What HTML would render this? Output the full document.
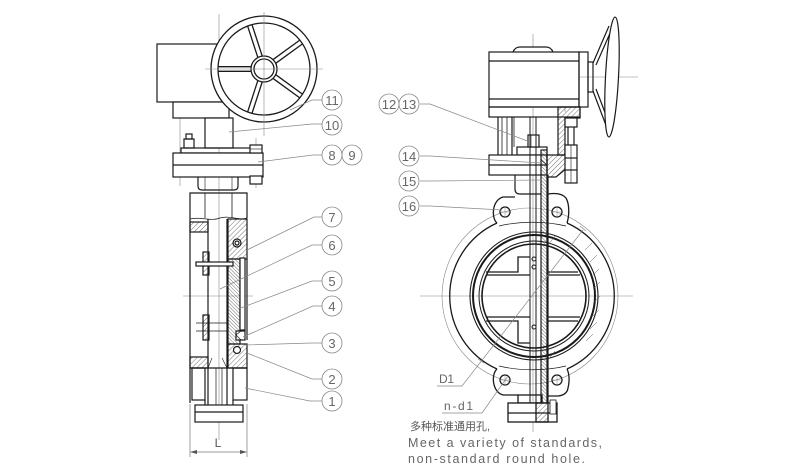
<!DOCTYPE html>
<html><head><meta charset="utf-8">
<style>
html,body{margin:0;padding:0;background:#fff;}
svg{display:block;}
text{font-family:"Liberation Sans","Noto Sans CJK SC",sans-serif;}
</style></head>
<body>
<svg width="790" height="472" viewBox="0 0 790 472" xmlns="http://www.w3.org/2000/svg">
<defs>
<pattern id="h" patternUnits="userSpaceOnUse" width="3.5" height="3.5" patternTransform="rotate(45)">
<line x1="0" y1="0" x2="0" y2="3.5" stroke="#333" stroke-width="0.7"/>
</pattern>
<pattern id="h2" patternUnits="userSpaceOnUse" width="2.5" height="2.5" patternTransform="rotate(-45)">
<line x1="0" y1="0" x2="0" y2="2.5" stroke="#333" stroke-width="0.7"/>
</pattern>
</defs>

<!-- ================= LEFT VIEW ================= -->
<!-- centerlines -->
<g stroke="#888" stroke-width="0.6" fill="none">
<line x1="219" y1="14" x2="219" y2="440"/>
<line x1="183" y1="296" x2="253" y2="296"/>
<line x1="180" y1="104" x2="180" y2="186"/>
<line x1="256" y1="138" x2="256" y2="188"/>
</g>

<g fill="none" stroke="#1a1a1a" stroke-width="1.2">
<!-- gearbox -->
<rect x="157" y="44" width="70" height="58" fill="#fff"/>
<rect x="173" y="102" width="56" height="16" fill="#fff"/>
<!-- stem column -->
<rect x="205" y="118" width="28" height="30" fill="#fff"/>
<!-- small plate + flange -->
<rect x="181" y="148" width="70" height="5"/>
<rect x="173" y="153" width="90" height="24" fill="#fff"/>
<line x1="173" y1="165" x2="263" y2="165"/>
<!-- left bolt -->
<rect x="184" y="139" width="10" height="9"/>
<rect x="186" y="134" width="6" height="5"/>
<!-- right bolt -->
<rect x="250" y="145" width="12" height="8" fill="#fff"/>
<rect x="250" y="176" width="12" height="8" fill="#fff"/>
<line x1="250" y1="149" x2="262" y2="149" stroke-width="0.6"/>
<!-- neck -->
<path d="M198,177 V186 Q198,190 202,190 H234 Q238,190 238,186 V177"/>
<line x1="205" y1="177" x2="205" y2="190" stroke-width="0.6"/>
<line x1="232" y1="177" x2="232" y2="190" stroke-width="0.6"/>
</g>

<!-- handwheel -->
<g fill="none" stroke="#1a1a1a" stroke-width="1.3">
<circle cx="264" cy="69" r="53" fill="#fff"/>
<circle cx="264" cy="69" r="46"/>
<g transform="translate(264,69)">
<path d="M12,-2.3 H45.9 M12,2.3 H45.9" transform="rotate(180)"/>
<path d="M12,-2.3 H45.9 M12,2.3 H45.9" transform="rotate(252)"/>
<path d="M12,-2.3 H45.9 M12,2.3 H45.9" transform="rotate(324)"/>
<path d="M12,-2.3 H45.9 M12,2.3 H45.9" transform="rotate(36)"/>
<path d="M12,-2.3 H45.9 M12,2.3 H45.9" transform="rotate(108)"/>
</g>
<circle cx="264" cy="69" r="13" fill="#fff"/>
<circle cx="264" cy="69" r="10"/>
</g>
<g stroke="#888" stroke-width="0.6">
<line x1="205" y1="69" x2="323" y2="69"/>
<line x1="264" y1="12" x2="264" y2="136"/>
</g>

<!-- body -->
<g stroke="#1a1a1a" stroke-width="1.2" fill="none">
<path d="M190,403 V193 H247 V218"/>
<line x1="205" y1="193" x2="205" y2="218" stroke-width="0.8"/>
<line x1="232" y1="193" x2="232" y2="218" stroke-width="0.8"/>
<path d="M190,219 C200,216 210,222 220,218 C230,215 240,221 247,218" stroke-width="0.7"/>
<!-- hatches -->
<rect x="190" y="222" width="18" height="10" fill="url(#h)"/>
<rect x="190" y="357" width="18" height="11" fill="url(#h)"/>
<rect x="228" y="219" width="19" height="40" fill="url(#h)"/>
<circle cx="237" cy="243" r="4" fill="#fff"/>
<circle cx="237" cy="243" r="2"/>
<rect x="228" y="259" width="12" height="85" fill="url(#h2)"/>
<rect x="240" y="258" width="5" height="72" fill="#fff"/>
<path d="M247,259 V340" />
<rect x="228" y="344" width="19" height="24" fill="url(#h)"/>
<circle cx="237" cy="350" r="3.5" fill="#fff"/>
<rect x="236" y="331" width="9" height="9" fill="#fff"/>
<path d="M236,335 L241,331 M236,335 L241,340" stroke-width="0.7"/>
<!-- stem -->
<line x1="208" y1="219" x2="208" y2="405"/>
<line x1="227" y1="219" x2="227" y2="405"/>
<line x1="190" y1="368" x2="247" y2="368"/>
<path d="M208,368 L212,358 M227,368 L222,358" stroke-width="0.6"/>
<!-- pins -->
<rect x="203" y="252" width="6" height="23" fill="url(#h)"/>
<rect x="196" y="262" width="37" height="4" fill="#fff"/>
<rect x="203" y="315" width="6" height="25" fill="url(#h)"/>
<line x1="196" y1="323" x2="228" y2="323" stroke-width="0.7"/>
<line x1="196" y1="331" x2="228" y2="331" stroke-width="0.7"/>
<!-- bottom -->
<rect x="192" y="368" width="13" height="32"/>
<rect x="233" y="368" width="14" height="32"/>
<line x1="216" y1="368" x2="216" y2="422" stroke-width="0.7"/>
<line x1="222" y1="368" x2="222" y2="422" stroke-width="0.7"/>
<rect x="195" y="405" width="48" height="17" fill="#fff"/>
<line x1="195" y1="412" x2="243" y2="412"/>
<line x1="205" y1="400" x2="205" y2="405"/>
<line x1="233" y1="400" x2="233" y2="405"/>
</g>

<!-- dimension L -->
<g stroke="#777" stroke-width="0.7" fill="none">
<line x1="190" y1="404" x2="190" y2="457"/>
<line x1="247" y1="404" x2="247" y2="457"/>
<line x1="191" y1="452" x2="246" y2="452"/>
</g>
<path d="M190,452 L197,450 L197,454 Z M247,452 L240,450 L240,454 Z" fill="#555"/>
<text x="218" y="447" font-size="12" fill="#555" text-anchor="middle">L</text>

<!-- left leaders -->
<g stroke="#888" stroke-width="0.7" fill="none">
<path d="M322,100 H312 L290,110"/>
<path d="M322,124 H312 L229,132"/>
<path d="M322,155 H313 L258,162"/>
<path d="M322,217 H314 L247,250"/>
<path d="M322,245 H312 L220,289"/>
<path d="M322,281 H312 L238,309"/>
<path d="M322,306 H313 L243,337"/>
<path d="M322,343 H312 L245,345"/>
<path d="M322,379 H312 L247,353"/>
<path d="M322,401 H310 L245,388"/>
</g>
<g stroke="#888" stroke-width="0.8" fill="#fff">
<circle cx="332" cy="100" r="10"/>
<circle cx="332" cy="125" r="10"/>
<circle cx="332" cy="155" r="10"/>
<circle cx="352" cy="155" r="10"/>
<circle cx="332" cy="217" r="10"/>
<circle cx="332" cy="245" r="10"/>
<circle cx="332" cy="281" r="10"/>
<circle cx="332" cy="306" r="10"/>
<circle cx="332" cy="343" r="10"/>
<circle cx="332" cy="379" r="10"/>
<circle cx="332" cy="401" r="10"/>
</g>
<g font-size="13" fill="#666" text-anchor="middle">
<text x="332" y="105">11</text>
<text x="332" y="130">10</text>
<text x="332" y="160">8</text>
<text x="352" y="160">9</text>
<text x="332" y="222">7</text>
<text x="332" y="250">6</text>
<text x="332" y="286">5</text>
<text x="332" y="311">4</text>
<text x="332" y="348">3</text>
<text x="332" y="384">2</text>
<text x="332" y="406">1</text>
</g>

<!-- ================= RIGHT VIEW ================= -->
<g stroke="#888" stroke-width="0.6" fill="none">
<line x1="533" y1="34" x2="533" y2="432"/>
<line x1="420" y1="296" x2="633" y2="296"/>
<line x1="500" y1="77" x2="638" y2="77"/>
<circle cx="530" cy="296" r="88"/>
<line x1="565" y1="98" x2="565" y2="112"/>
</g>

<g fill="none" stroke="#1a1a1a" stroke-width="1.2">
<!-- gearbox -->
<path d="M513,52 Q515,47 520,47 H546 Q551,47 553,52" fill="#fff"/>
<rect x="489" y="52" width="90" height="55" fill="#fff"/>
<line x1="489" y1="61" x2="579" y2="61"/>
<line x1="489" y1="99" x2="579" y2="99"/>
<rect x="579" y="52" width="9" height="55"/>
<rect x="489" y="107" width="91" height="10"/>
<!-- hub and wheel -->
<rect x="588" y="62" width="5" height="30"/>
<path d="M593,63 L609,26 M596,65 L611,31 M593,91 L607,128 M596,89 L609,123"/>
<ellipse cx="612" cy="77" rx="6.5" ry="60" transform="rotate(3 612 77)" fill="#fff"/>
<!-- columns -->
<line x1="498" y1="117" x2="498" y2="155"/>
<line x1="502" y1="117" x2="502" y2="155" stroke-width="0.8"/>
<line x1="507" y1="117" x2="507" y2="155" stroke-width="0.8"/>
<line x1="512" y1="117" x2="512" y2="155"/>
<path d="M514,117 V147" stroke-width="0.8"/>
<path d="M514,117 H556" stroke-width="0.8"/>
<!-- bracket section -->
<path d="M558,107 H580 V118 H565 V155 H558 Z" fill="url(#h)"/>
<!-- top plate, nut -->
<rect x="517" y="147" width="30" height="8" fill="#fff"/>
<rect x="528" y="135" width="11" height="12" fill="#fff"/>
<line x1="531" y1="135" x2="531" y2="147" stroke-width="0.6"/>
<line x1="536" y1="135" x2="536" y2="147" stroke-width="0.6"/>
<!-- flange -->
<rect x="489" y="155" width="58" height="20" fill="#fff"/>
<line x1="489" y1="165" x2="547" y2="165"/>
<path d="M547,155 H567 V168 L556,177 H547 Z" fill="url(#h)"/>
<!-- bolts right -->
<rect x="565" y="118" width="12" height="9" fill="#fff"/>
<line x1="568" y1="127" x2="568" y2="145"/>
<line x1="574" y1="127" x2="574" y2="145"/>
<rect x="565" y="145" width="12" height="38" fill="#fff"/>
<line x1="565" y1="158" x2="577" y2="158"/>
<line x1="565" y1="170" x2="577" y2="170"/>
<line x1="571" y1="145" x2="571" y2="183" stroke-width="0.6"/>
<!-- neck -->
<path d="M515,175 V189 Q515,194 520,194 H541"/>
<!-- stem -->
<line x1="530" y1="117" x2="530" y2="410" stroke-width="1"/>
<line x1="536" y1="117" x2="536" y2="410" stroke-width="1"/>
<rect x="541" y="150" width="6" height="260" fill="url(#h2)"/>
<line x1="548" y1="175" x2="548" y2="420"/>
<path d="M547,165 L541,160" stroke-width="0.8"/>
</g>

<!-- body front -->
<g fill="none" stroke="#1a1a1a" stroke-width="1.3">
<path d="M497,223 A80,80 0 0 0 497,369"/>
<path d="M567,223 A80,80 0 0 1 567,369"/>
<path d="M497,223 C491,218 492,200 503,197 H515"/>
<path d="M548,194 Q561,192 566,198 C570,205 569,217 567,223"/>
<path d="M497,369 C491,374 492,392 503,395 H518"/>
<path d="M548,396 H558 Q567,395 568,388 C570,380 569,373 567,369"/>
<path d="M499,226 C520,221 545,221 566,226" stroke-width="0.7"/>
<path d="M499,366 C520,371 545,371 566,366" stroke-width="0.7"/>
<!-- bore rings -->
<circle cx="534" cy="296" r="64" stroke-width="1.1"/>
<circle cx="534" cy="296" r="61" stroke-width="2"/>
<circle cx="534" cy="296" r="55" stroke-width="1"/>
<circle cx="534" cy="296" r="52" stroke-width="1.6"/>
<!-- disc -->
<path d="M486,272 H518 V257 H530 M486,275 H530"/>
<path d="M486,317 H530 M486,321 H518 V343 H530"/>
<path d="M548,272 H578 M548,275 H580 M548,317 H580 M548,321 H578"/>
<!-- holes -->
<circle cx="505" cy="212" r="5"/>
<circle cx="557" cy="212" r="5"/>
<circle cx="505" cy="380" r="5"/>
<circle cx="557" cy="380" r="5"/>
<circle cx="534" cy="259" r="2" stroke-width="1"/>
<circle cx="534" cy="267" r="2" stroke-width="1"/>
<circle cx="534" cy="327" r="2" stroke-width="1"/>
<!-- bottom -->
<rect x="518" y="395" width="24" height="8"/>
<rect x="508" y="403" width="49" height="19" fill="#fff"/>
<line x1="508" y1="413" x2="557" y2="413"/>
<rect x="536" y="403" width="12" height="19" fill="url(#h)"/>
<rect x="550" y="400" width="6" height="14" fill="#fff" stroke-width="0.8"/>
</g>
<!-- section hatch on right ring -->
<g stroke="#555" stroke-width="0.5">
<path d="M585,250 L592,243 M590,262 L597,255 M593,275 L599,269 M594,288 L600,282 M594,302 L600,296 M593,316 L599,310 M590,329 L597,322 M586,341 L593,334"/>
<path d="M548,245 L555,236 M548,360 L555,351"/>
</g>
<g stroke="#888" stroke-width="0.5">
<path d="M500,212 H510 M505,207 V217 M552,212 H562 M557,207 V217 M500,380 H510 M505,375 V385 M552,380 H562 M557,375 V385"/>
</g>

<!-- right leaders -->
<g stroke="#888" stroke-width="0.7" fill="none">
<path d="M420,104 H430 L530,142"/>
<path d="M420,156 H430 L541,163"/>
<path d="M420,181 H430 L542,180"/>
<path d="M420,206 H430 L502,210"/>
<path d="M437,386 H462 L583,230"/>
<path d="M442,413 H482 L508,376"/>
<path d="M478,359 L484,363 M580,226 L586,231"/>
</g>
<g stroke="#888" stroke-width="0.8" fill="#fff">
<circle cx="389" cy="104" r="10"/>
<circle cx="409" cy="104" r="10"/>
<circle cx="409" cy="156" r="10"/>
<circle cx="409" cy="181" r="10"/>
<circle cx="409" cy="206" r="10"/>
</g>
<g font-size="13" fill="#666" text-anchor="middle">
<text x="389" y="109">12</text>
<text x="409" y="109">13</text>
<text x="409" y="161">14</text>
<text x="409" y="186">15</text>
<text x="409" y="211">16</text>
</g>
<text x="439" y="383" font-size="12" fill="#666" textLength="15" lengthAdjust="spacing">D1</text>
<text x="444" y="410" font-size="12" fill="#666" textLength="29" lengthAdjust="spacing">n-d1</text>

<!-- notes -->
<text x="410" y="430" font-size="11" fill="#555" textLength="80" lengthAdjust="spacingAndGlyphs">多种标准通用孔,</text>
<text x="408" y="447" font-size="12.5" fill="#666" textLength="194" lengthAdjust="spacing">Meet a variety of standards,</text>
<text x="408" y="463" font-size="12.5" fill="#666" textLength="177" lengthAdjust="spacing">non-standard round hole.</text>
</svg>
</body>
</html>
